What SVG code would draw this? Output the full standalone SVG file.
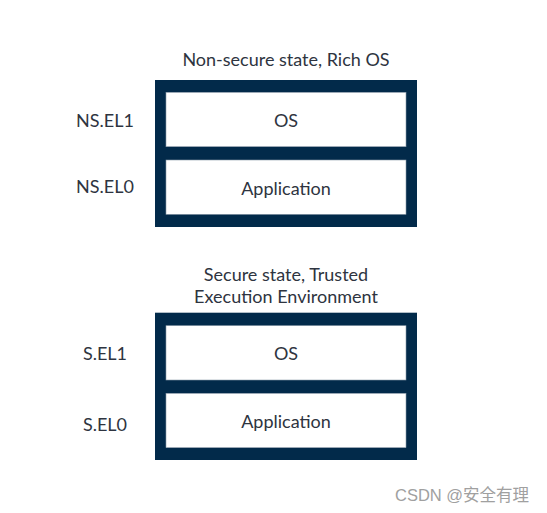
<svg xmlns="http://www.w3.org/2000/svg" width="547" height="513" viewBox="0 0 547 513">
<style>
.t{font-family:Lato,"Noto Sans",sans-serif;font-size:18px;fill:#2e3440;text-anchor:middle}
.outer{fill:#022a4a}
.inner{fill:#fff;stroke:#8a9aa8;stroke-width:0.6}
.wm{font-family:"Liberation Sans","Noto Sans CJK SC",sans-serif;font-size:16.5px;fill:#a0a0a0}
</style>
<rect width="547" height="513" fill="#fff"/>
<g id="ns-state">
<text class="t" x="286" y="66">Non-secure state, Rich OS</text>
<rect class="outer" x="155" y="80" width="262" height="147"/>
</g>
<g id="ns-os">
<rect class="inner" x="166" y="92.3" width="240" height="54.4"/>
<text class="t" x="286" y="127">OS</text>
</g>
<g id="ns-app">
<rect class="inner" x="166" y="160" width="240" height="54.3"/>
<text class="t" x="286" y="195">Application</text>
</g>
<g id="ns-labels">
<text class="t" x="105" y="127">NS.EL1</text>
<text class="t" x="105" y="193">NS.EL0</text>
</g>
<g id="s-state">
<text class="t" x="286" y="281">Secure state, Trusted</text>
<text class="t" x="286" y="303">Execution Environment</text>
<rect class="outer" x="155" y="312.7" width="262" height="147.3"/>
</g>
<g id="s-os">
<rect class="inner" x="166" y="325.7" width="240" height="54.3"/>
<text class="t" x="286" y="360">OS</text>
</g>
<g id="s-app">
<rect class="inner" x="166" y="393.3" width="240" height="54.4"/>
<text class="t" x="286" y="428">Application</text>
</g>
<g id="s-labels">
<text class="t" x="105" y="360">S.EL1</text>
<text class="t" x="105" y="431">S.EL0</text>
</g>
<g id="connectors"/>
<text class="wm" x="395" y="501">CSDN @安全有理</text>
</svg>
